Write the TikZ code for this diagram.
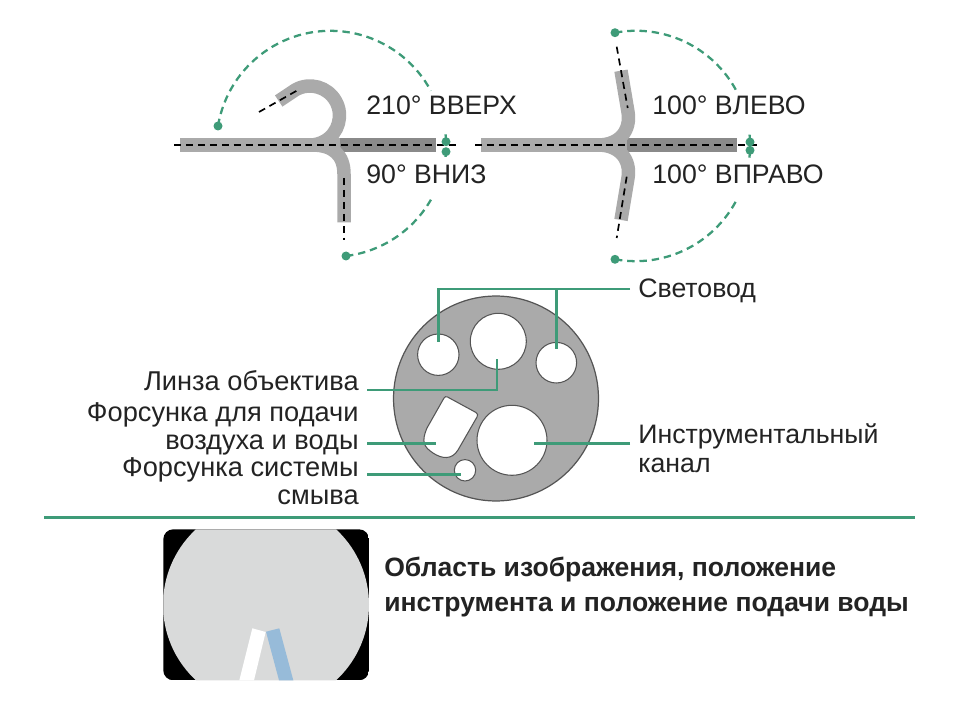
\documentclass[tikz,border=0pt]{standalone}
\usepackage{fontspec}
\setmainfont{Liberation Sans}
\definecolor{MarkGreen}{RGB}{62, 155, 120}
\definecolor{TubeGray} {RGB}{170,170,170}
\definecolor{TubeDark} {RGB}{138,138,138}
\definecolor{DiskEdge} {RGB}{85,  85,  85}
\definecolor{ViewGray} {RGB}{217,218,218}
\definecolor{WaterBlue}{RGB}{151,187,217}
\definecolor{TextBlack}{RGB}{35,  35,  35}
\usetikzlibrary{positioning}

\begin{document}
\begin{tikzpicture}[
  x=0.02cm, y=-0.02cm,
  tube/.style={TubeGray, line width=0.27cm},
  tubedark/.style={TubeDark, line width=0.27cm},
  axisline/.style={black, line width=0.95pt, dash pattern=on 4pt off 2.8pt},
  sweep/.style={MarkGreen, line width=1.3pt, dash pattern=on 4.2pt off 2.8pt},
  dot/.style={circle, fill=MarkGreen, inner sep=0, minimum size=0.18cm},
  lead/.style={MarkGreen, line width=1.7pt},
  angletext/.style={
    anchor=west, inner sep=0, text=TextBlack,
    font=\fontsize{15.2}{16.2}\selectfont},
  leftlabel/.style={
    anchor=east, align=right, inner sep=0.16cm, text=TextBlack,
    font=\fontsize{15.5}{16.2}\selectfont},
  rightlabel/.style={
    anchor=west, align=left, inner sep=0.16cm, text=TextBlack,
    font=\fontsize{15.2}{16.2}\selectfont},
  hole/.style={circle, draw=DiskEdge, fill=white, line width=0.6pt, inner sep=0}
]
\useasboundingbox (0,0) rectangle (960,719);

% left scope
\draw[tube] (180,145) -- (345,145);
\draw[tubedark] (340,145) -- (436,145);
\draw[tube] (278.7,101) -- (295.5,89.8)
  arc[start angle=240.6, end angle=450, radius=29.5];
\draw[tube] (344,222.5) -- (344,174)
  .. controls (344,155) and (333,145) .. (312,145);
\draw[axisline] (174,145) -- (456,145);
\draw[axisline] (259,112) -- (298,90);
\draw[axisline] (344,178) -- (344,240);

\node[dot] (dotup)    at (218,126) {};
\node[dot] (dotdown)  at (346,256) {};
\node[dot] (dotzeroa) at (446,141.7) {};
\node[dot] (dotzerob) at (446,151.7) {};
\draw[sweep] (dotup.center) arc[start angle=189.5, end angle=331.7, radius=114];
\draw[sweep] (dotdown.center) arc[start angle=83, end angle=29.9, radius=114];
\draw[sweep] (dotzeroa.center) arc[start angle=358.5, end angle=353.5, radius=114];
\draw[sweep] (dotzerob.center) arc[start angle=3.4, end angle=6, radius=114];

\node[angletext] (up)   at (366,105) {210° ВВЕРХ};
\node[angletext] (down) at (366,174) {90° ВНИЗ};

% right scope
\draw[tube] (481,145) -- (632,145);
\draw[tubedark] (627,145) -- (737,145);
\draw[tube] (621,70.7) -- (628,112)
  .. controls (631,130) and (620,145) .. (598,145);
\draw[tube] (621,220) -- (628,178)
  .. controls (631,160) and (620,145) .. (598,145);
\draw[axisline] (475,145) -- (757,145);
\draw[axisline] (616.7,46.7) -- (627.7,108);
\draw[axisline] (626.7,176.7) -- (616.7,238);

\node[dot] (dotleft)  at (615,32.7) {};
\node[dot] (dotright) at (615,259.3) {};
\node[dot] (dotzeroc) at (750,142) {};
\node[dot] (dotzerod) at (750,150.3) {};
\draw[sweep] (dotleft.center) arc[start angle=259.4, end angle=331.7, radius=114];
\draw[sweep] (dotright.center) arc[start angle=100.4, end angle=28.6, radius=114];
\draw[sweep] (dotzeroc.center) arc[start angle=358.5, end angle=354, radius=114];
\draw[sweep] (dotzerod.center) arc[start angle=2.7, end angle=7, radius=114];

\node[angletext] (left)  at (652,105) {100° ВЛЕВО};
\node[angletext] (right) at (652,174) {100° ВПРАВО};

% end face
\node[circle, draw=DiskEdge, fill=TubeGray, line width=0.7pt, inner sep=0,
  minimum size=4.1cm] (disk) at (496,398.5) {};
\node[hole, minimum size=0.828cm] (guidea) at (438.3,354.7) {};
\node[hole, minimum size=1.12cm]  (lens)   at (498.3,341.3) {};
\node[hole, minimum size=0.812cm] (guideb) at (556.3,362.7) {};
\node[hole, minimum size=1.4cm]   (channel) at (512,440.3) {};
\node[hole, minimum size=0.428cm] (flush)  at (465,470.3) {};
\draw[draw=DiskEdge, fill=white, line width=0.6pt] (447.5,397) -- (476,412.5)
  .. controls (478,414) and (478,415) .. (477,417) -- (458,450)
  .. controls (452,460) and (442,459) .. (433,453)
  .. controls (424,447) and (421,442) .. (427,428) -- (444,398)
  .. controls (445,396.5) and (446,396.5) .. (447.5,397) -- cycle;

\node[rightlabel] (guidetext) at (630,291) {Световод};
\node[rightlabel] (channeltext) at (630,448) {Инструментальный\\канал};
\node[leftlabel] (lenstext) at (367,381) {Линза объектива};
\node[leftlabel] (airtext) at (367,429) {Форсунка для подачи\\воздуха и воды};
\node[leftlabel] (flushtext) at (367,481) {Форсунка системы\\смыва};

\coordinate (guideaend) at (438.3,341.7);
\coordinate (guidebend) at (556.3,349.3);
\coordinate (guiderow) at (556.3,289);
\coordinate (lensend) at (497,359.3);
\coordinate (lensrow) at (497,390);
\coordinate (airend) at (435.7,443.3);
\coordinate (flushend) at (460.7,474.7);
\coordinate (channelend) at (534.3,443.3);

\draw[lead] (guidetext.west |- guiderow) -- (guideaend |- guiderow) -- (guideaend);
\draw[lead] (guiderow) -- (guidebend);
\draw[lead] (lenstext.east |- lensrow) -- (lensrow) -- (lensend);
\draw[lead] (airtext.east |- airend) -- (airend);
\draw[lead] (flushtext.east |- flushend) -- (flushend);
\draw[lead] (channeltext.west |- channelend) -- (channelend);

% divider
\coordinate (rulea) at (44,517.3);
\coordinate (ruleb) at (915,517.3);
\draw[lead] (rulea) -- (ruleb);

% image area
\begin{scope}
\clip[rounded corners=0.2cm] (163.3,529.3) rectangle (369,680.3);
\fill[black] (163.3,529.3) rectangle (369,680.3);
\fill[ViewGray] (266,604.8) circle (103);
\fill[white] (252.3,628.3) -- (265.7,632) -- (254,680.3) -- (239.3,680.3) -- cycle;
\fill[WaterBlue] (266,631.7) -- (279.3,628.3) -- (293.3,680.3) -- (279,680.3) -- cycle;
\end{scope}

\node[anchor=west, align=left, inner sep=0, text=TextBlack,
  font=\fontsize{15.1}{20.4}\selectfont\bfseries] (areatext) at (384,587)
  {Область изображения, положение\\инструмента и положение подачи воды};

\end{tikzpicture}
\end{document}
